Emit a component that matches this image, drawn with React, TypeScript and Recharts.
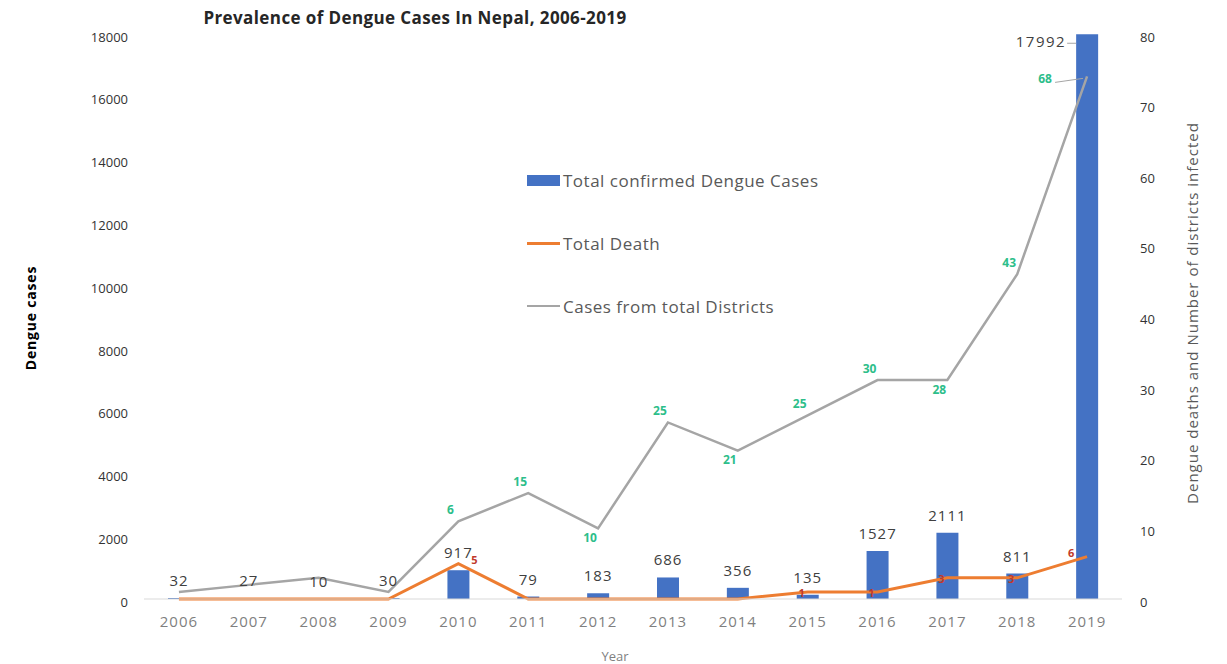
import React from 'react';
import { ComposedChart, Bar, Line, XAxis, YAxis, LabelList, Legend } from 'recharts';

const years = ['2006', '2007', '2008', '2009', '2010', '2011', '2012', '2013', '2014', '2015', '2016', '2017', '2018', '2019'];
const confirmedCases = [32, 27, 10, 30, 917, 79, 183, 686, 356, 135, 1527, 2111, 811, 17992];
const totalDeaths = [0, 0, 0, 0, 5, 0, 0, 0, 0, 1, 1, 3, 3, 6];
const districts = [1, 2, 3, 1, 6, 15, 10, 25, 21, 25, 30, 28, 43, 68];
const leftTicks = [0, 2000, 4000, 6000, 8000, 10000, 12000, 14000, 16000, 18000];
const rightTicks = [0, 10, 20, 30, 40, 50, 60, 70, 80];

const seriesNames = {
  cases: 'Total confirmed Dengue Cases',
  deaths: 'Total Death',
  districts: 'Cases from total Districts',
};

// Excel-style stacked line: the districts line is drawn on top of the deaths line
const data = years.map((year, i) => ({
  year,
  cases: confirmedCases[i],
  deaths: totalDeaths[i],
  districts: districts[i],
  districtsLine: totalDeaths[i] + districts[i],
}));

const FONT = '"Open Sans", sans-serif';
const BLUE = '#4472C4';
const ORANGE = '#ED7D31';
const GREY = '#A5A5A5';
const GREEN = '#2DBE8A';
const last = years.length - 1;

const renderCaseLabel = (props: any) => {
  const { x, y, width, value, index } = props;
  if (index === last) {
    return (
      <g>
        <text x={x - 10} y={y + 7} textAnchor="end" dominantBaseline="central" fontSize={15} letterSpacing={1.5} fill="#404040" fontFamily={FONT}>
          {value}
        </text>
        <line x1={x - 9} y1={y + 9} x2={x} y2={y + 9} stroke="#A5A5A5" strokeWidth={1} />
      </g>
    );
  }
  return (
    <text x={x + width / 2} y={y - 18} textAnchor="middle" dominantBaseline="central" fontSize={15} letterSpacing={1} fill="#404040" fontFamily={FONT}>
      {value}
    </text>
  );
};

const renderDistrictLabel = (props: any) => {
  const { x, y, index } = props;
  const v = districts[index];
  if (v < 5) return null;
  if (index === last) {
    return (
      <g>
        <text x={x - 42} y={y + 2} textAnchor="middle" dominantBaseline="central" fontSize={12} fontWeight={700} fill={GREEN} fontFamily={FONT}>
          {v}
        </text>
        <line x1={x - 32} y1={y + 6} x2={x - 4} y2={y + 2} stroke="#A5A5A5" strokeWidth={1} />
      </g>
    );
  }
  const prev = data[index - 1]?.districtsLine ?? 0;
  const cur = data[index].districtsLine;
  const below = cur <= prev;
  return (
    <text x={x - 8} y={below ? y + 9 : y - 12} textAnchor="middle" dominantBaseline="central" fontSize={12} fontWeight={700} fill={GREEN} fontFamily={FONT}>
      {v}
    </text>
  );
};

const renderDeathLabel = (props: any) => {
  const { x, y, value, index } = props;
  if (!value) return null;
  let dx = -6;
  let dy = 1;
  if (index === last) { dx = -16; dy = -4; }
  else if (value > totalDeaths[index + 1]) { dx = 16; dy = -4; }
  return (
    <text x={x + dx} y={y + dy} textAnchor="middle" dominantBaseline="central" fontSize={11} fontWeight={700} fill="#C0392B" fontFamily={FONT}>
      {value}
    </text>
  );
};

const renderLegend = () => (
  <div style={{ fontFamily: FONT, fontSize: 17, letterSpacing: 0.5, color: '#595959' }}>
    <div style={{ display: 'flex', alignItems: 'center', height: 30 }}>
      <span style={{ display: 'inline-block', width: 33, height: 11, background: BLUE, marginRight: 3 }} />
      {seriesNames.cases}
    </div>
    <div style={{ display: 'flex', alignItems: 'center', height: 30, marginTop: 33 }}>
      <span style={{ display: 'inline-block', width: 33, height: 3, background: ORANGE, marginRight: 3 }} />
      {seriesNames.deaths}
    </div>
    <div style={{ display: 'flex', alignItems: 'center', height: 30, marginTop: 33 }}>
      <span style={{ display: 'inline-block', width: 33, height: 2, background: GREY, marginRight: 3 }} />
      {seriesNames.districts}
    </div>
  </div>
);

export default function App() {
  return (
    <div style={{ position: 'absolute', left: 0, top: 0, width: 1227, height: 664, background: '#fff', overflow: 'hidden', fontFamily: FONT }}>
      <ComposedChart width={1227} height={664} data={data} margin={{ top: 34, right: 45, bottom: 35, left: 64 }}>
        <XAxis
          dataKey="year"
          interval={0}
          height={30}
          tickLine={false}
          tickSize={0}
          tickMargin={17}
          axisLine={{ stroke: '#D9D9D9' }}
          tick={{ fontSize: 15, fill: '#7F7F7F', fontFamily: FONT, letterSpacing: 1 }}
        />
        <YAxis
          yAxisId="left"
          domain={[0, 18000]}
          ticks={leftTicks}
          width={80}
          axisLine={false}
          tickLine={false}
          tickSize={0}
          tickMargin={16}
          tick={{ fontSize: 13, fill: '#333', fontFamily: FONT, dy: 3 }}
        />
        <YAxis
          yAxisId="right"
          orientation="right"
          domain={[0, 80]}
          ticks={rightTicks}
          width={60}
          axisLine={false}
          tickLine={false}
          tickSize={0}
          tickMargin={18}
          tick={{ fontSize: 13, fill: '#333', fontFamily: FONT, dy: 3 }}
        />
        <Legend
          layout="vertical"
          align="center"
          verticalAlign="middle"
          content={renderLegend}
          wrapperStyle={{ position: 'absolute', left: 527, top: 165, width: 360 }}
        />
        <Bar yAxisId="left" dataKey="cases" name={seriesNames.cases} fill={BLUE} barSize={22} isAnimationActive={false}>
          <LabelList dataKey="cases" content={renderCaseLabel} />
        </Bar>
        <Line yAxisId="right" dataKey="districtsLine" name={seriesNames.districts} stroke={GREY} strokeWidth={2.5} dot={false} isAnimationActive={false}>
          <LabelList dataKey="districtsLine" content={renderDistrictLabel} />
        </Line>
        <Line yAxisId="right" dataKey="deaths" name={seriesNames.deaths} stroke={ORANGE} strokeWidth={3} dot={false} isAnimationActive={false}>
          <LabelList dataKey="deaths" content={renderDeathLabel} />
        </Line>
      </ComposedChart>
      <div style={{ position: 'absolute', left: 415, top: 17, transform: 'translate(-50%, -50%)', whiteSpace: 'nowrap', fontSize: 17, letterSpacing: 0.4, fontWeight: 700, color: '#262626' }}>
        Prevalence of Dengue Cases In Nepal, 2006-2019
      </div>
      <div style={{ position: 'absolute', left: 30, top: 318, transform: 'translate(-50%, -50%) rotate(-90deg)', whiteSpace: 'nowrap', fontSize: 14, letterSpacing: 0.8, fontWeight: 700, color: '#000' }}>
        Dengue cases
      </div>
      <div style={{ position: 'absolute', left: 1192, top: 313, transform: 'translate(-50%, -50%) rotate(-90deg)', whiteSpace: 'nowrap', fontSize: 15, letterSpacing: 1, color: '#595959' }}>
        Dengue deaths and Number of districts infected
      </div>
      <div style={{ position: 'absolute', left: 615, top: 656, transform: 'translate(-50%, -50%)', whiteSpace: 'nowrap', fontSize: 13, color: '#7F7F7F' }}>
        Year
      </div>
    </div>
  );
}
